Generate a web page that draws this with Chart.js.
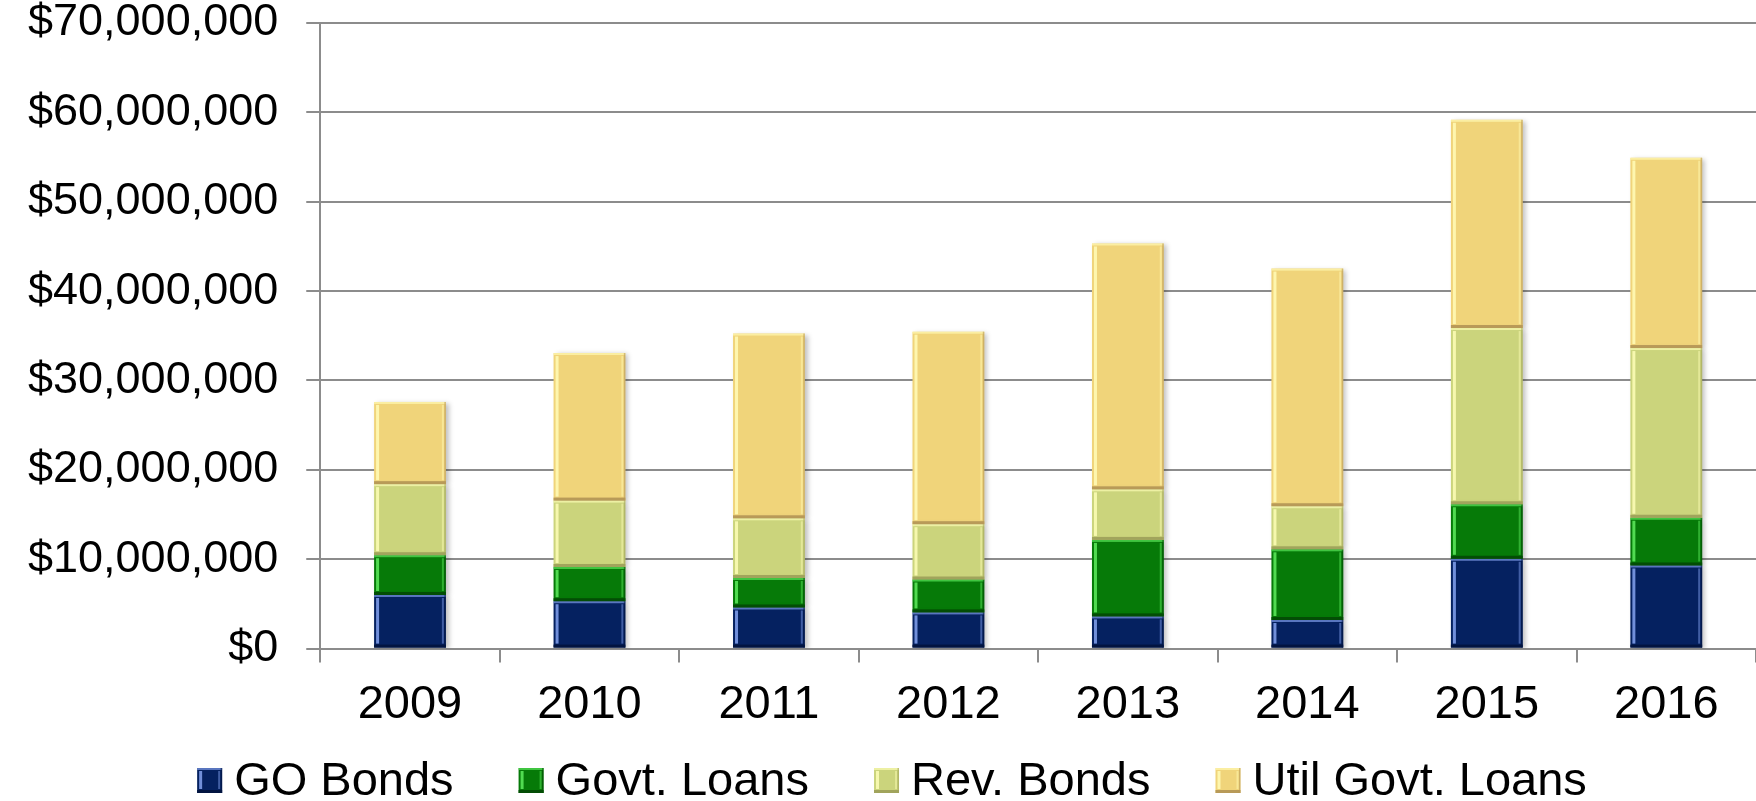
<!DOCTYPE html>
<html>
<head>
  <meta charset="UTF-8">
  <title>Debt Issued by Year</title>
  <style>
    html, body {
      margin: 0;
      padding: 0;
      background: #fff;
    }
    #wrap {
      width: 1756px;
      height: 801px;
    }
  </style>
</head>
<body>

  <div id="wrap"><canvas id="debtChart"></canvas></div>

  <script src="https://cdn.jsdelivr.net/npm/chart.js"></script>
  <script>
    // Yearly totals by funding source (dollars)
    const years = ['2009', '2010', '2011', '2012', '2013', '2014', '2015', '2016'];
    const goBonds = [6000000, 5300000, 4600000, 4050000, 3600000, 3200000, 10050000, 9300000];
    const govtLoans = [4450000, 3830000, 3300000, 3680000, 8560000, 7910000, 6100000, 5340000];
    const revBonds = [7950000, 7430000, 6680000, 6190000, 5660000, 4820000, 19720000, 18990000];
    const utilGovtLoans = [9200000, 16510000, 20670000, 21540000, 27510000, 26590000, 23300000, 21290000];
    const yMax = 70000000;
    const yStep = 10000000;

    const FONT = '"Liberation Sans", Arial, sans-serif';
    const GRID = '#8c8c8c';

    // fill, highlight edge, shadow edge for each series
    const palette = {
      go:   { fill: '#052160', hi: '#7d9be8', lo: '#021440' },
      govt: { fill: '#067a08', hi: '#5ae65a', lo: '#034d05' },
      rev:  { fill: '#cbd47c', hi: '#fbfcb4', lo: '#a1a45c' },
      util: { fill: '#f0d47a', hi: '#fffab4', lo: '#b89a58' }
    };

    // Draws the bevelled edges on one bar segment
    function bevel(ctx, l, t, w, h, c) {
      ctx.save();
      ctx.fillStyle = c.hi;
      ctx.globalAlpha = 0.7;
      ctx.fillRect(l, t, w, 2);
      ctx.globalAlpha = 0.9;
      ctx.fillRect(l + 2, t + 3, 3, h - 7);
      ctx.globalAlpha = 0.5;
      ctx.fillRect(l + w - 4, t + 3, 2, h - 7);
      ctx.globalAlpha = 1;
      ctx.fillStyle = c.lo;
      ctx.fillRect(l, t + h - 3, w, 3);
      ctx.globalAlpha = 0.6;
      ctx.fillRect(l + w - 1.5, t, 1.5, h);
      ctx.restore();
    }

    const barStyle = {
      id: 'barStyle',
      beforeDatasetsDraw(chart) {
        const ctx = chart.ctx;
        ctx.save();
        ctx.shadowColor = 'rgba(0,0,0,0.25)';
        ctx.shadowBlur = 5;
        ctx.shadowOffsetX = 3;
        ctx.shadowOffsetY = 1;
      },
      afterDatasetsDraw(chart) {
        const ctx = chart.ctx;
        ctx.restore();
        chart.data.datasets.forEach((ds, i) => {
          chart.getDatasetMeta(i).data.forEach(bar => {
            const p = bar.getProps(['x', 'y', 'base', 'width'], true);
            const t = Math.min(p.y, p.base);
            const h = Math.abs(p.base - p.y);
            if (h > 8) bevel(ctx, p.x - p.width / 2, t, p.width, h, ds.bevel);
          });
        });
      }
    };

    // Legend row under the axis
    const bottomLegend = {
      id: 'bottomLegend',
      afterDraw(chart) {
        const ctx = chart.ctx;
        const box = 25, textGap = 12, itemGap = 65;
        ctx.save();
        ctx.font = '47px ' + FONT;
        const items = chart.data.datasets.map(ds => ({
          ds: ds,
          w: box + textGap + ctx.measureText(ds.label).width
        }));
        const total = items.reduce((s, it) => s + it.w, 0) + itemGap * (items.length - 1);
        let x = 892 - total / 2;
        const base = 795;
        items.forEach(it => {
          const top = base - 27;
          ctx.fillStyle = it.ds.backgroundColor;
          ctx.fillRect(x, top, box, box);
          bevel(ctx, x, top, box, box, it.ds.bevel);
          ctx.fillStyle = '#000';
          ctx.textBaseline = 'alphabetic';
          ctx.fillText(it.ds.label, x + box + textGap, base);
          x += it.w + itemGap;
        });
        ctx.restore();
      }
    };

    Chart.defaults.font.family = FONT;
    Chart.defaults.color = '#000';

    const ctx = document.getElementById('debtChart').getContext('2d');
    new Chart(ctx, {
      type: 'bar',
      data: {
        labels: years,
        datasets: [
          { label: 'GO Bonds', data: goBonds, backgroundColor: palette.go.fill, bevel: palette.go },
          { label: 'Govt. Loans', data: govtLoans, backgroundColor: palette.govt.fill, bevel: palette.govt },
          { label: 'Rev. Bonds', data: revBonds, backgroundColor: palette.rev.fill, bevel: palette.rev },
          { label: 'Util Govt. Loans', data: utilGovtLoans, backgroundColor: palette.util.fill, bevel: palette.util }
        ]
      },
      options: {
        responsive: true,
        maintainAspectRatio: false,
        animation: false,
        barPercentage: 0.4,
        categoryPercentage: 1.0,
        layout: { padding: { left: 0, right: 0, top: 0, bottom: 54 } },
        plugins: {
          legend: { display: false },
          tooltip: { enabled: false }
        },
        scales: {
          x: {
            stacked: true,
            ticks: { font: { size: 47 }, padding: 14, maxRotation: 0 },
            grid: { drawOnChartArea: false, color: GRID, lineWidth: 2, tickLength: 14, offset: true },
            border: { color: GRID, width: 2 }
          },
          y: {
            stacked: true,
            min: 0,
            max: yMax,
            ticks: {
              stepSize: yStep,
              padding: 28,
              font: { size: 45, lineHeight: 1.02 },
              callback: v => '$' + v.toLocaleString('en-US')
            },
            grid: { color: GRID, lineWidth: 2, tickLength: 14 },
            border: { color: GRID, width: 2 },
            // tick padding is added above the top label too; keep only half a label
            afterFit: s => { s.paddingTop = 23; }
          }
        }
      },
      plugins: [barStyle, bottomLegend]
    });
  </script>
</body>
</html>
